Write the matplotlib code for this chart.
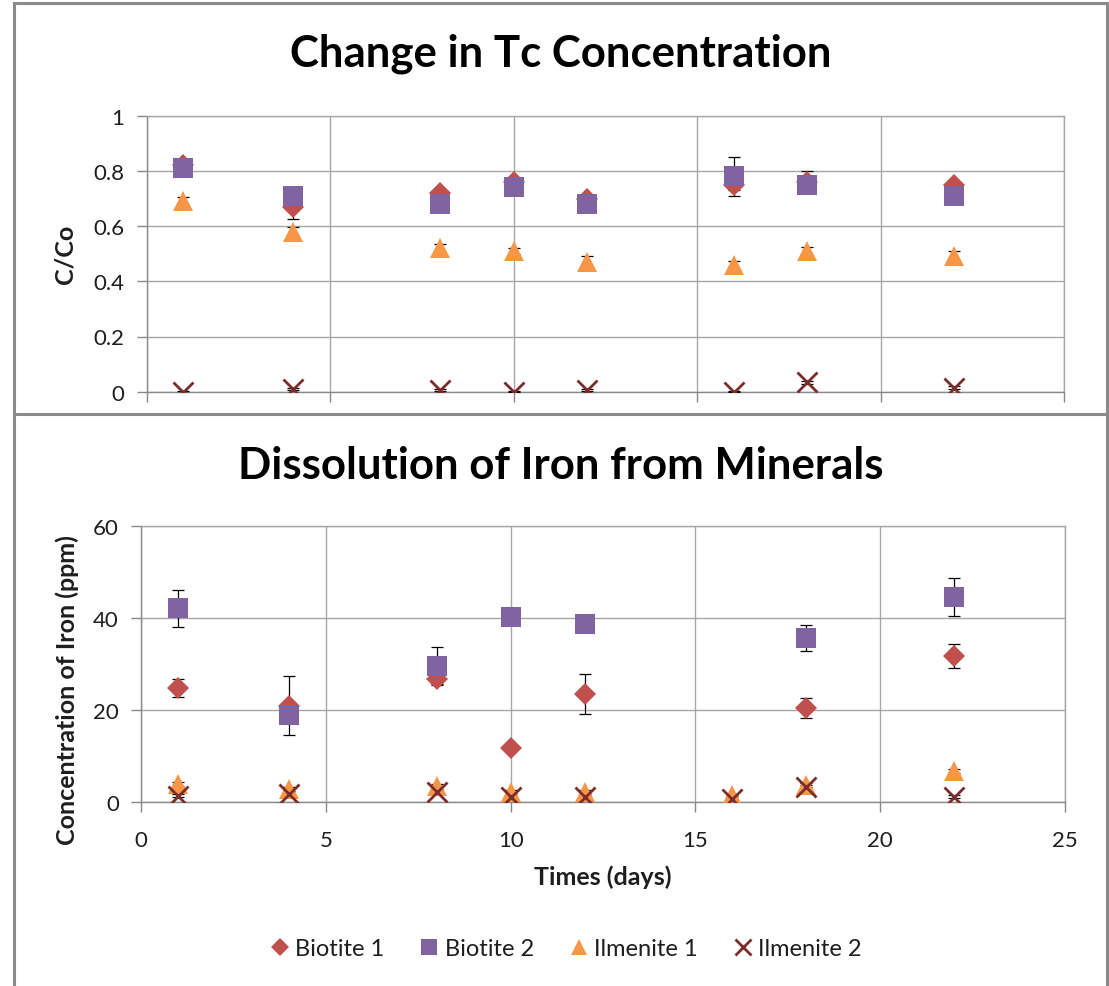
import numpy as np
import matplotlib
matplotlib.use("Agg")
import matplotlib.pyplot as plt
from matplotlib.lines import Line2D

plt.rcParams['font.family'] = ['Lato', 'DejaVu Sans']

days = [1, 4, 8, 10, 12, 16, 18, 22]
series_names = ['Biotite 1', 'Biotite 2', 'Ilmenite 1', 'Ilmenite 2']

# Tc, C/Co
tc_biotite1 = [0.82, 0.67, 0.72, 0.76, 0.70, 0.75, 0.76, 0.75]
tc_biotite1_err = [0.01, 0.045, 0.01, 0.01, 0.01, 0.018, 0.04, 0.01]
tc_biotite2 = [0.81, 0.71, 0.68, 0.74, 0.68, 0.78, 0.75, 0.71]
tc_biotite2_err = [0.01, 0.01, 0.01, 0.01, 0.01, 0.072, 0.01, 0.01]
tc_ilmenite1 = [0.69, 0.58, 0.52, 0.51, 0.47, 0.46, 0.51, 0.49]
tc_ilmenite1_err = [0.015, 0.015, 0.015, 0.01, 0.02, 0.015, 0.015, 0.02]
tc_ilmenite2 = [0.0, 0.01, 0.005, 0.0, 0.005, 0.0, 0.034, 0.015]
tc_ilmenite2_err = [0.003, 0.004, 0.004, 0.002, 0.004, 0.002, 0.005, 0.004]

# dissolved iron, ppm
fe_biotite1 = [24.8, 21.0, 26.7, 11.8, 23.6, np.nan, 20.5, 31.9]
fe_biotite1_err = [2.0, 6.4, 1.0, 0.6, 4.3, np.nan, 2.2, 2.6]
fe_biotite2 = [42.2, 19.0, 29.7, 40.2, 38.8, np.nan, 35.7, 44.6]
fe_biotite2_err = [4.0, 1.0, 4.1, 0.5, 0.5, np.nan, 2.8, 4.1]
fe_ilmenite1 = [4.0, 2.9, 3.5, 2.3, 2.3, 1.6, 3.8, 6.8]
fe_ilmenite1_err = [0.5, 0.5, 0.5, 0.4, 0.4, 0.3, 0.5, 0.5]
fe_ilmenite2 = [1.4, 1.8, 2.2, 1.1, 1.1, 0.7, 3.3, 1.2]
fe_ilmenite2_err = [0.3, 0.3, 0.3, 0.2, 0.2, 0.2, 0.4, 0.3]

styles = [
    dict(marker='D', color='#C0504D', ms=11.5),
    dict(marker='s', color='#8064A2', ms=14.5),
    dict(marker='^', color='#F79646', ms=14),
    dict(marker='x', color='#7B2D2B', ms=14, mew=2.0),
]

W, H = 1109, 987
grid_c = '#A6A6A6'
axis_c = '#898989'
text_c = '#1E1E1E'

fig = plt.figure(figsize=(W / 100, H / 100), dpi=100)


def draw_panel(ax, values, errors, ymax, ystep):
    for i, (vals, errs, st) in enumerate(zip(values, errors, styles)):
        ax.errorbar(days, vals, yerr=errs, fmt='none', ecolor='black',
                    elinewidth=0.9, capsize=4, capthick=0.9, zorder=3)
        ax.plot(days, vals, linestyle='none', marker=st['marker'],
                color=st['color'], ms=st['ms'], mew=st.get('mew', 0),
                label=series_names[i], zorder=4 + i)
    ax.set_xlim(0, 25)
    ax.set_ylim(0, ymax)
    ax.set_xticks(np.arange(0, 26, 5))
    ax.set_yticks(np.arange(0, ymax + ystep / 2, ystep))
    ax.grid(True, color=grid_c, linewidth=1.0)
    ax.set_axisbelow(True)
    for sp in ax.spines.values():
        sp.set_color(grid_c)
        sp.set_linewidth(1.0)
    ax.spines['left'].set_color(axis_c)
    ax.spines['bottom'].set_color(axis_c)
    ax.tick_params(axis='both', direction='out', length=7, width=1.0,
                   color=axis_c, labelsize=16, labelcolor=text_c)
    ax.tick_params(axis='y', pad=9)
    ax.tick_params(axis='x', pad=13)


# top panel: Tc concentration
ax1 = fig.add_axes([146.5 / W, 1 - 392.7 / H, 917.5 / W, 276 / H])
draw_panel(ax1,
           [tc_biotite1, tc_biotite2, tc_ilmenite1, tc_ilmenite2],
           [tc_biotite1_err, tc_biotite2_err, tc_ilmenite1_err, tc_ilmenite2_err],
           1.0, 0.2)
ax1.set_yticklabels(['0', '0.2', '0.4', '0.6', '0.8', '1'])
ax1.tick_params(axis='x', labelbottom=False)
fig.text(65 / W, 1 - 254 / H, 'C/Co', rotation=90, ha='center', va='center',
         fontsize=18, fontweight='bold', color=text_c)
fig.text(561 / W, 1 - 54 / H, 'Change in Tc Concentration', ha='center',
         va='center', fontsize=31.5, fontweight='bold', color='black')

# bottom panel: iron
ax2 = fig.add_axes([141 / W, 1 - 803.3 / H, 924 / W, 276 / H])
draw_panel(ax2,
           [fe_biotite1, fe_biotite2, fe_ilmenite1, fe_ilmenite2],
           [fe_biotite1_err, fe_biotite2_err, fe_ilmenite1_err, fe_ilmenite2_err],
           60, 20)
fig.text(67 / W, 1 - 690 / H, 'Concentration of Iron (ppm)', rotation=90,
         ha='center', va='center', fontsize=18, fontweight='bold', color=text_c)
fig.text(603 / W, 1 - 877 / H, 'Times (days)', ha='center', va='center',
         fontsize=18, fontweight='bold', color=text_c)
fig.text(561 / W, 1 - 466 / H, 'Dissolution of Iron from Minerals', ha='center',
         va='center', fontsize=31.5, fontweight='bold', color='black')

handles, labels = ax2.get_legend_handles_labels()
fig.legend(handles, labels, loc='center', bbox_to_anchor=(566 / W, 1 - 950 / H),
           ncol=4, frameon=False, fontsize=17, markerscale=0.8,
           handlelength=0.8, handletextpad=0.25, columnspacing=1.5,
           labelcolor=text_c)

# chart frames
frame_c = '#8A8A8A'
for xs, ys in [((14, 14), (0, H - 4)), ((1107, 1107), (0, H - 4)),
               ((14, 1107), (H - 4, H - 4)), ((14, 1107), (H - 415, H - 415))]:
    fig.add_artist(Line2D([x / W for x in xs], [y / H for y in ys],
                          color=frame_c, linewidth=2.2))

fig.savefig('out.png', dpi=100)
